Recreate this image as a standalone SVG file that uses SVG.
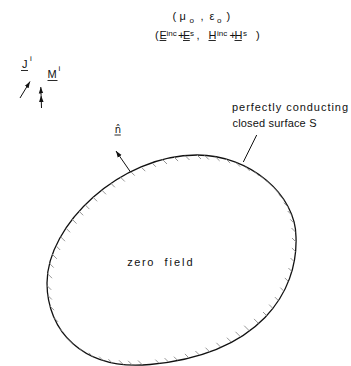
<svg xmlns="http://www.w3.org/2000/svg" width="351" height="366" viewBox="0 0 351 366">
<style>
text{font-family:"Liberation Sans","DejaVu Sans",sans-serif;fill:#111}
.m{font-size:11px}
.s{font-size:8px}
.ul{stroke:#111;stroke-width:0.9}
.ln{stroke:#111;stroke-width:1;fill:none}
</style>
<defs>
<marker id="tick" markerUnits="userSpaceOnUse" markerWidth="10" markerHeight="10" refX="5" refY="5" orient="0" overflow="visible">
<line x1="1" y1="1" x2="9" y2="9" stroke="#8a8a8a" stroke-width="0.9"/>
</marker>
<marker id="arr" markerUnits="userSpaceOnUse" viewBox="0 0 10 10" refX="10" refY="5" markerWidth="6.5" markerHeight="6.5" orient="auto">
<path d="M0,1.5 L10,5 L0,8.5 z" fill="#111"/>
</marker>
<clipPath id="inside">
<path d="M197,155 C250,155 296,195 296,237 C298,292 260,354 150,364.5 C82,371 47,330 47,283 C47,225 120,155 197,155 Z"/>
</clipPath>
</defs>

<g id="surface">
<path d="M197,155 C250,155 296,195 296,237 C298,292 260,354 150,364.5 C82,371 47,330 47,283 C47,225 120,155 197,155 Z" fill="none" stroke="#111" stroke-width="1.3"/>
<g clip-path="url(#inside)">
<path fill="none" stroke="none" marker-start="url(#tick)" marker-mid="url(#tick)" marker-end="url(#tick)" d="M48.05,274.2 L49.7,263.6 L52.8,254.8 L56.2,246 L61,237.2 L66.1,228.3 L72.5,219.6 L79.2,211.3 L85.4,205.1 L93.1,197.3 L102,190.3 L110.9,183.3 L120.8,177.5 L130.7,171.6 L141.3,167.2 L151.9,162.8 L163,160 L174.1,157.1 L185.5,156 L197,155 L204.8,155.5 L215.6,156.9 L226.2,159.2 L236.2,162.7 L245.7,166.9 L254.7,171.8 L262.9,177.7 L270.4,184.1 L277.2,191 L283,198.6 L287.8,206.7 L291.7,215 L294.3,223.4 L295.5,232 L296,242 L295.9,252 L294.5,262 L292.4,272 L288.8,281.9 L284.3,291.6 L278.9,301.1 L273.1,308.6 L267,316 L258,322.9 L248.2,329.7 L239.5,335.8 L230.9,341.7 L220.4,346.8 L209.5,351.7 L199.4,355 L188.9,357.9 L177.9,360.7 L168.6,362.1 L159.3,363.6 L142,364.5 L132.1,364.8 L123,364.3 L112.4,363.2 L103.1,360.6 L92.9,356.8 L83.5,352.3 L74.5,345.7 L66.8,338.1 L59.6,328.5 L54,317.8 L50.1,306.2 L47.9,295.5 L47.2,285.8"/>
</g>
<text class="m" x="127.3" y="265.5" textLength="26" lengthAdjust="spacing">zero</text>
<text class="m" x="164.5" y="265.5" textLength="28" lengthAdjust="spacing">field</text>
</g>

<g id="medium">
<text class="m" x="172.5" y="19.5">(</text>
<text class="m" x="179.5" y="19.5">μ</text>
<text class="s" x="189.5" y="23">o</text>
<text class="m" x="200.5" y="19.5">,</text>
<text class="m" x="209.5" y="19.5">ε</text>
<text class="s" x="217" y="23">o</text>
<text class="m" x="226.5" y="19.5">)</text>
</g>

<g id="fields">
<text class="m" x="155" y="39">(</text>
<text class="m" x="159.5" y="38.5">E</text>
<text class="s" x="166.5" y="35.5">inc</text>
<text class="m" x="178" y="38.5">+</text>
<text class="m" x="183" y="38.5">E</text>
<text class="s" x="190" y="35.5">s</text>
<text class="m" x="196.5" y="38.5">,</text>
<text class="m" x="208.5" y="38.5">H</text>
<text class="s" x="217" y="35.5">inc</text>
<text class="m" x="229.5" y="38.5">+</text>
<text class="m" x="234.5" y="38.5">H</text>
<text class="s" x="243" y="35.5">s</text>
<text class="m" x="256" y="39">)</text>
<line class="ul" x1="159.5" y1="40.5" x2="166.3" y2="40.5"/>
<line class="ul" x1="183" y1="40.5" x2="189.8" y2="40.5"/>
<line class="ul" x1="208.5" y1="40.5" x2="215.8" y2="40.5"/>
<line class="ul" x1="234.5" y1="40.5" x2="241.8" y2="40.5"/>
</g>

<g id="source-J">
<text class="m" x="22" y="67.5">J</text>
<text class="s" x="30" y="61">i</text>
<line class="ul" x1="21" y1="70.5" x2="28" y2="70.5"/>
</g>

<g id="source-M">
<text class="m" x="47.5" y="77.5">M</text>
<text class="s" x="58.5" y="71">i</text>
<line class="ul" x1="47.5" y1="80.5" x2="57.5" y2="80.5"/>
</g>

<g id="normal-label">
<text x="114.8" y="132.7" style="font-family:'DejaVu Sans','Liberation Sans',sans-serif;font-size:10px">n̂</text>
<line class="ul" x1="114.5" y1="135" x2="120.8" y2="135"/>
</g>

<g id="surface-label">
<text class="m" x="232" y="111" textLength="116" lengthAdjust="spacing">perfectly conducting</text>
<text class="m" x="232.5" y="127" textLength="84" lengthAdjust="spacing">closed surface S</text>
</g>

<g id="connectors">
<line class="ln" x1="243.3" y1="162" x2="256.7" y2="135"/>
<line class="ln" x1="130.5" y1="172" x2="116" y2="151" marker-end="url(#arr)"/>
<line class="ln" x1="20" y1="98" x2="30" y2="81.5" marker-end="url(#arr)" stroke-width="1.2"/>
<path class="ln" d="M41.5,108 L41.1,95.5 L40.8,87" marker-mid="url(#arr)" marker-end="url(#arr)" stroke-width="1.2"/>
</g>
</svg>
